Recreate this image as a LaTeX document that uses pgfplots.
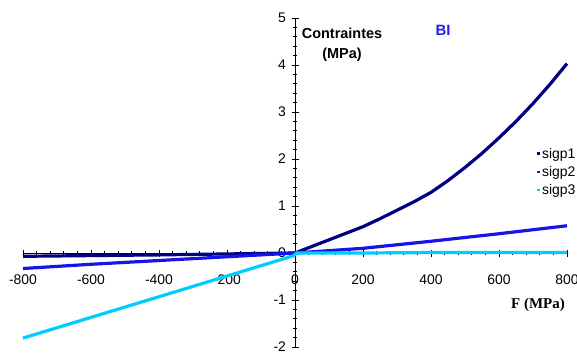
\documentclass[border=0pt]{standalone}
\usepackage{pgfplots}
\pgfplotsset{compat=1.18}
\usepackage{fontspec}
\setmainfont{Liberation Sans}
\newfontfamily\timesfont{Liberation Serif}
\definecolor{c1}{RGB}{0,0,128}
\definecolor{c2}{RGB}{20,20,235}
\definecolor{c3}{RGB}{0,204,255}
\definecolor{titleblue}{RGB}{30,30,240}
\begin{document}
\begin{tikzpicture}[x=1bp,y=1bp]
\begin{axis}[
  at={(0,0)}, anchor=origin,
  x=0.34bp, y=47bp,
  axis lines=middle,
  axis line style={-, line width=1pt, black},
  xmin=-800, xmax=800, ymin=-2, ymax=5,
  xtick={-800,-600,...,800}, ytick={-2,-1,...,5},
  minor x tick num=4, minor y tick num=4,
  hide obscured x ticks=false, hide obscured y ticks=false,
  tick align=center,
  major tick length=7bp, minor tick length=4bp,
  tick style={black, line width=0.8pt},
  /pgf/number format/assume math mode=true,
  ticklabel style={font=\fontsize{14}{16}\selectfont},
  xticklabel style={yshift=-15bp},
  yticklabel style={xshift=-2bp},
  clip=false,
  legend style={at={(axis cs:712,2.28)}, anchor=north west, draw=none, fill=none,
    font=\fontsize{14}{16}\selectfont, row sep=2.5bp, inner sep=0pt},
  legend cell align=left,
  legend image code/.code={\path[fill, draw=none, line width=0pt] (3.5bp,-1.4bp) rectangle (6.3bp,1.4bp);},
]
\addplot[c1, line width=3.2bp] coordinates {
(-800,-0.07) (-600,-0.055) (-400,-0.04) (-200,-0.02) (0,0)
(50,0.14) (100,0.28) (150,0.42) (200,0.56) (250,0.73) (300,0.91) (350,1.09) (400,1.29)
(450,1.54) (500,1.82) (550,2.12) (600,2.45) (650,2.80) (700,3.18) (750,3.59) (800,4.03)};
\addlegendentry{sigp1}
\addplot[c2, line width=3.2bp] coordinates {
(-800,-0.33) (-600,-0.24) (-400,-0.16) (-200,-0.08) (0,0)
(200,0.10) (400,0.25) (600,0.41) (800,0.58)};
\addlegendentry{sigp2}
\addplot[c3, line width=3.2bp] coordinates {
(-800,-1.81) (-400,-0.93) (-200,-0.49) (-5,-0.06) (5,0)
(200,0.0) (400,0.01) (800,0.01)};
\addlegendentry{sigp3}
\end{axis}
\node[font=\bfseries\fontsize{15}{17}\selectfont, color=titleblue] at (148,223) {BI};
\node[font=\bfseries\fontsize{14.5}{20}\selectfont, align=center] at (47,208) {Contraintes\\(MPa)};
\node[font=\timesfont\bfseries\fontsize{15}{17}\selectfont] at (243,-52) {F (MPa)};
\pgfresetboundingbox
\path (-295,-101) rectangle (282,253);
\end{tikzpicture}
\end{document}
